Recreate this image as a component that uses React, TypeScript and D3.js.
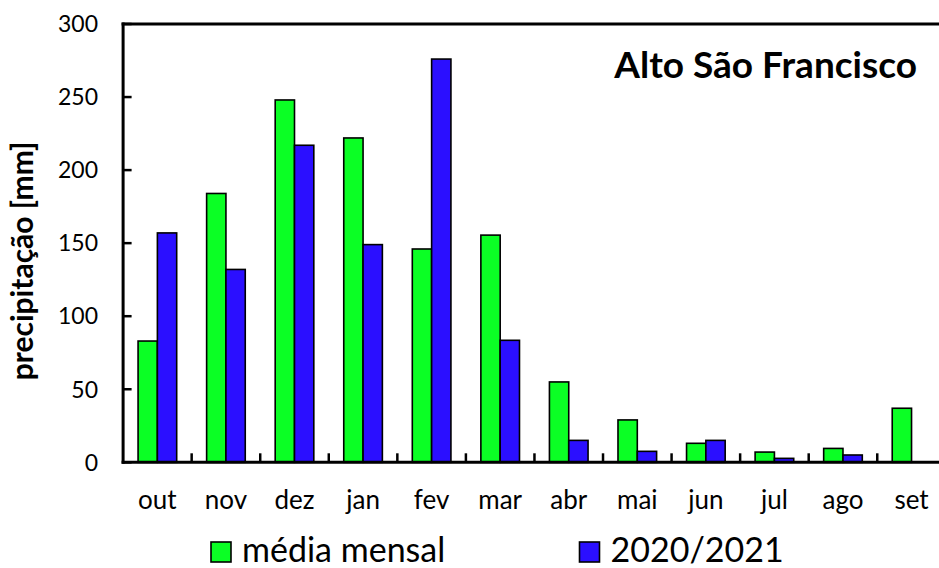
import React from "react";
import * as d3 from "d3";

const months = ["out", "nov", "dez", "jan", "fev", "mar", "abr", "mai", "jun", "jul", "ago", "set"];
const mediaMensal = [83, 184, 248, 222, 146, 155.5, 55, 29, 13, 7, 9.5, 37];
const ano2020 = [157, 132, 217, 149, 276, 83.5, 15, 7.5, 15, 2.7, 5, null];
const seriesNames = ["média mensal", "2020/2021"];
const seriesColors = ["#0BFF25", "#2B0FFF"];
const yTicks = [0, 50, 100, 150, 200, 250, 300];
const title = "Alto São Francisco";
const yTitle = "precipitação [mm]";

const W = 939;
const H = 568;
const left = 123.1;
const catW = 68.56;
const right = left + catW * months.length;
const top = 24;
const bottom = 462.3;
const font = "Lato, 'Open Sans', sans-serif";

export default function App() {
  const x = d3.scaleBand<string>().domain(months).range([left, right]).padding(0);
  const inner = d3
    .scaleBand<number>()
    .domain([0, 1])
    .range([0, x.bandwidth()])
    .paddingInner(0)
    .paddingOuter(0.775);
  const y = d3.scaleLinear().domain([0, 300]).range([bottom, top]);
  const data = [mediaMensal, ano2020];

  return (
    <svg
      width={W}
      height={H}
      style={{ position: "absolute", left: 0, top: 0, background: "#fff" }}
      fontFamily={font}
    >
      <rect x={0} y={0} width={W} height={H} fill="#fff" />
      {data.map((series, si) =>
        series.map((v, i) =>
          v == null ? null : (
            <rect
              key={`${si}-${i}`}
              x={(x(months[i]) as number) + (inner(si) as number)}
              y={y(v)}
              width={inner.bandwidth()}
              height={y(0) - y(v)}
              fill={seriesColors[si]}
              stroke="#000"
              strokeWidth={1.6}
            />
          )
        )
      )}
      {months.map((m, i) =>
        i === 0 ? null : (
          <line
            key={m}
            x1={x(m) as number}
            x2={x(m) as number}
            y1={y(0)}
            y2={y(0) - 9}
            stroke="#000"
            strokeWidth={2.5}
          />
        )
      )}
      {yTicks.map((t) => (
        <line key={t} x1={left} x2={left + 8.5} y1={y(t)} y2={y(t)} stroke="#000" strokeWidth={2.5} />
      ))}
      <line x1={left} x2={left} y1={top - 1.5} y2={bottom + 1.5} stroke="#000" strokeWidth={3} />
      <line x1={left - 1.5} x2={W} y1={top} y2={top} stroke="#000" strokeWidth={3} />
      <line x1={left - 1.5} x2={W} y1={bottom} y2={bottom} stroke="#000" strokeWidth={3} />
      {yTicks.map((t) => (
        <text key={t} x={98} y={y(t)} dy="0.36em" textAnchor="end" fontSize={23} fill="#000">
          {t}
        </text>
      ))}
      {months.map((m) => (
        <text
          key={m}
          x={(x(m) as number) + x.bandwidth() / 2}
          y={509}
          textAnchor="middle"
          fontSize={26}
          fill="#000"
        >
          {m}
        </text>
      ))}
      <text
        transform={`translate(33,261) rotate(-90)`}
        textAnchor="middle"
        fontSize={30}
        fontWeight="bold"
        fill="#000"
      >
        {yTitle}
      </text>
      <text x={917} y={78} textAnchor="end" fontSize={37} fontWeight="bold" fill="#000">
        {title}
      </text>
      {seriesNames.map((n, i) => {
        const lx = i === 0 ? 211 : 579.5;
        return (
          <g key={n}>
            <rect x={lx} y={542} width={20} height={20} fill={seriesColors[i]} stroke="#000" strokeWidth={1.6} />
            <text x={lx + 31} y={562} fontSize={34} fill="#000">
              {n}
            </text>
          </g>
        );
      })}
    </svg>
  );
}
